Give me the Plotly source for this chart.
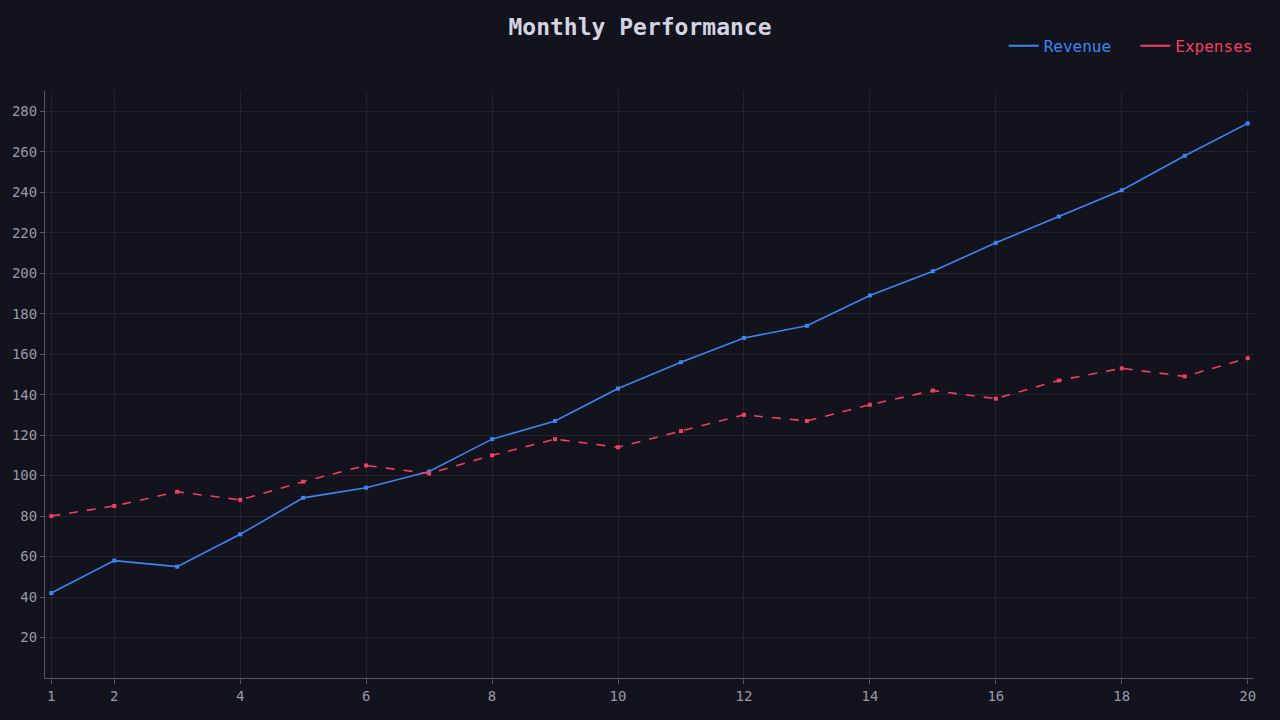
import plotly.graph_objects as go

months = list(range(1, 21))
revenue = [42, 58, 55, 71, 89, 94, 102, 118, 127, 143, 156, 168, 174, 189, 201, 215, 228, 241, 258, 274]
expenses = [80, 85, 92, 88, 97, 105, 101, 110, 118, 114, 122, 130, 127, 135, 142, 138, 147, 153, 149, 158]
x_ticks = [1, 2, 4, 6, 8, 10, 12, 14, 16, 18, 20]
y_ticks = list(range(20, 281, 20))

BG = "#12131c"
GRID = "#22232d"
AXIS = "#55565f"
TICK = "#9a9aa6"
BLUE = "#3d85f5"
RED = "#f43f5e"
FONT = "DejaVu Sans Mono"

fig = go.Figure()
fig.add_trace(go.Scatter(
    x=months, y=revenue, name="Revenue", mode="lines+markers", showlegend=False,
    line=dict(color=BLUE, width=1.6),
    marker=dict(color=BLUE, size=4, symbol="square"),
))
fig.add_trace(go.Scatter(
    x=months, y=expenses, name="Expenses", mode="lines+markers", showlegend=False,
    line=dict(color=RED, width=1.6, dash="dash"),
    marker=dict(color=RED, size=4, symbol="square"),
))
# legend entries (line only, label in series colour)
fig.add_trace(go.Scatter(
    x=[None], y=[None], mode="lines", name=f"<span style='color:{BLUE}'>Revenue</span>\u00a0\u00a0",
    line=dict(color=BLUE, width=2),
))
fig.add_trace(go.Scatter(
    x=[None], y=[None], mode="lines", name=f"<span style='color:{RED}'>Expenses</span>",
    line=dict(color=RED, width=2),
))

fig.update_layout(
    width=1280, height=720,
    paper_bgcolor=BG, plot_bgcolor=BG,
    margin=dict(l=45, r=26, t=91, b=42),
    font=dict(family=FONT, color=TICK, size=14),
    title=dict(text="<b>Monthly Performance</b>", x=0.5, xanchor="center", y=1 - 27 / 720, yanchor="middle",
               font=dict(family=FONT, size=23, color="#d4d4e2")),
    legend=dict(orientation="h", x=1.003, xanchor="right", y=1.077, yanchor="middle",
                font=dict(family=FONT, size=16), bgcolor="rgba(0,0,0,0)",
                itemwidth=30, tracegroupgap=0),
    showlegend=True,
    xaxis=dict(range=[0.9, 20.1], tickvals=x_ticks, showgrid=True, gridcolor=GRID, gridwidth=1,
               showline=True, linecolor=AXIS, linewidth=1, ticks="outside", ticklen=5, tickcolor=AXIS,
               zeroline=False, tickfont=dict(family=FONT, size=14, color=TICK)),
    yaxis=dict(range=[0, 290], tickvals=y_ticks, showgrid=True, gridcolor=GRID, gridwidth=1,
               showline=True, linecolor=AXIS, linewidth=1, ticks="outside", ticklen=4, tickcolor=AXIS,
               zeroline=False, tickfont=dict(family=FONT, size=14, color=TICK)),
)

fig.write_html("out.html")
